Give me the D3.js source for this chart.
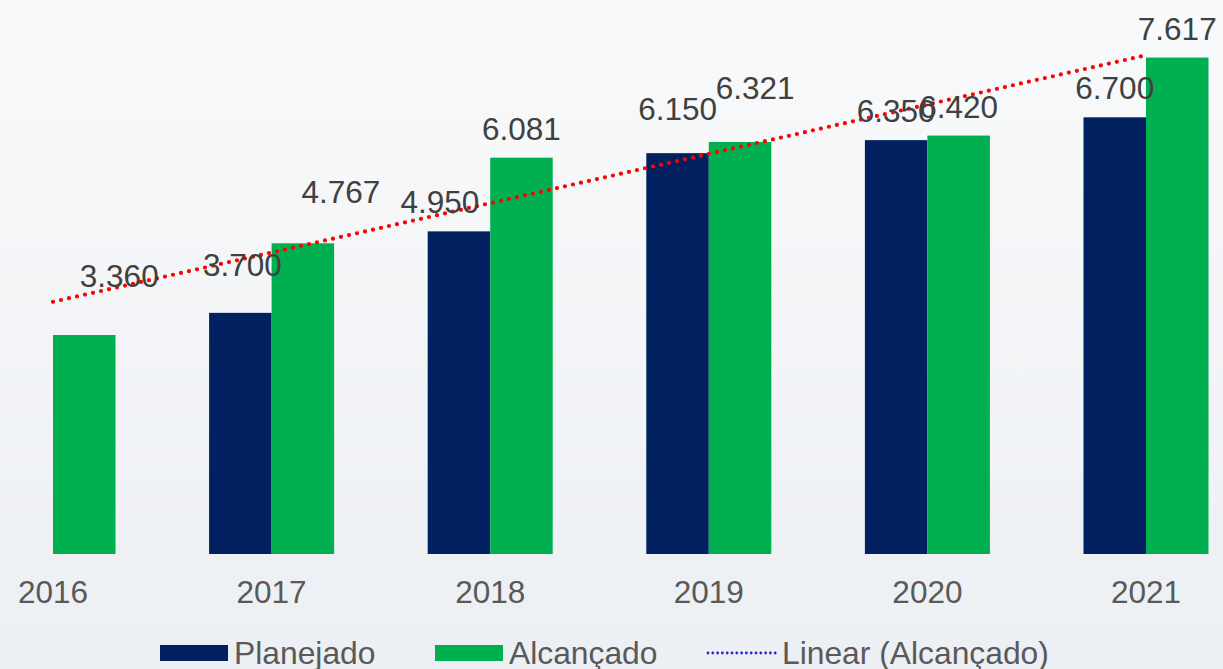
<!DOCTYPE html>
<html>
<head>
<meta charset="utf-8">
<script src="https://cdn.jsdelivr.net/npm/d3@7"></script>
<style>
  html, body { margin: 0; padding: 0; }
  body { width: 1223px; height: 669px; overflow: hidden; }
  svg { display: block; font-family: "Liberation Sans", Arial, sans-serif; }
</style>
</head>
<body>
<div id="chart"></div>
<script>
// Data
const years = ["2016", "2017", "2018", "2019", "2020", "2021"];
const planejado = [null, 3700, 4950, 6150, 6350, 6700];
const alcancado = [3360, 4767, 6081, 6321, 6420, 7617];
const seriesNames = ["Planejado", "Alcançado"];
const trendName = "Linear (Alcançado)";

// Manual label nudges (as moved in the original chart)
const labelNudge = {
  "Planejado-2017": [2, -19],
  "Planejado-2018": [-19, 0],
  "Planejado-2019": [0, -15],
  "Alcançado-2016": [35, -30],
  "Alcançado-2017": [38, -22],
  "Alcançado-2019": [15, -25]
};

const width = 1223;
const height = 669;
const colors = { "Planejado": "#002060", "Alcançado": "#00B050" };
const fmt = v => d3.format(",")(v).replace(",", ".");

const svg = d3.select("#chart")
  .append("svg")
    .attr("width", width)
    .attr("height", height);

// Background
const grad = svg.append("defs")
  .append("linearGradient")
    .attr("id", "bg")
    .attr("x1", 0).attr("y1", 0)
    .attr("x2", 0).attr("y2", 1);
grad.append("stop").attr("offset", "0%").attr("stop-color", "#f9fafb");
grad.append("stop").attr("offset", "100%").attr("stop-color", "#eceff3");
svg.append("rect")
    .attr("width", width)
    .attr("height", height)
    .attr("fill", "url(#bg)");

// Scales
const x = d3.scalePoint()
  .domain(years)
  .range([53, 1146]);
const xSub = d3.scaleBand()
  .domain(seriesNames)
  .range([-62.5, 62.5]);
const y = d3.scaleLinear()
  .domain([0, 8500])
  .range([554, 0]);

const rows = [];
years.forEach((yr, i) => {
  rows.push({ year: yr, key: "Planejado", value: planejado[i] });
  rows.push({ year: yr, key: "Alcançado", value: alcancado[i] });
});
const bars = rows.filter(d => d.value != null);

// Bars
svg.append("g")
    .attr("class", "bars")
  .selectAll("rect")
  .data(bars)
  .join("rect")
    .attr("x", d => x(d.year) + xSub(d.key))
    .attr("y", d => y(d.value))
    .attr("width", xSub.bandwidth())
    .attr("height", d => y(0) - y(d.value))
    .attr("fill", d => colors[d.key]);

// Trendline (linear regression over Alcançado)
const pts = alcancado.map((v, i) => [i + 1, v]);
const n = pts.length;
const mx = d3.mean(pts, p => p[0]);
const my = d3.mean(pts, p => p[1]);
const slope = d3.sum(pts, p => (p[0] - mx) * (p[1] - my)) / d3.sum(pts, p => (p[0] - mx) ** 2);
const icpt = my - slope * mx;
const trend = [1, n].map(t => [x(years[t - 1]), y(icpt + slope * t)]);
svg.append("path")
    .attr("d", d3.line()(trend))
    .attr("fill", "none")
    .attr("stroke", "#ff0000")
    .attr("stroke-width", 4.2)
    .attr("stroke-linecap", "round")
    .attr("stroke-dasharray", "0 8.2");

// Data labels
svg.append("g")
    .attr("class", "labels")
    .attr("fill", "#404040")
    .attr("font-size", 31.5)
    .attr("text-anchor", "middle")
  .selectAll("text")
  .data(bars)
  .join("text")
    .attr("x", d => {
      const nudge = labelNudge[`${d.key}-${d.year}`] || [0, 0];
      return x(d.year) + xSub(d.key) + xSub.bandwidth() / 2 + nudge[0];
    })
    .attr("y", d => {
      const nudge = labelNudge[`${d.key}-${d.year}`] || [0, 0];
      return y(d.value) - 18 + nudge[1];
    })
    .text(d => fmt(d.value));

// X axis labels
svg.append("g")
    .attr("fill", "#595959")
    .attr("font-size", 31.5)
    .attr("text-anchor", "middle")
  .selectAll("text")
  .data(years)
  .join("text")
    .attr("x", d => x(d))
    .attr("y", 603)
    .text(d => d);

// Legend
const legend = svg.append("g")
    .attr("class", "legend")
    .attr("font-size", 31.8)
    .attr("fill", "#595959");
const legendItems = [
  { name: seriesNames[0], x: 160 },
  { name: seriesNames[1], x: 435 }
];
legendItems.forEach(item => {
  legend.append("rect")
      .attr("x", item.x)
      .attr("y", 645)
      .attr("width", 68)
      .attr("height", 16)
      .attr("fill", colors[item.name]);
  legend.append("text")
      .attr("x", item.x + 74)
      .attr("y", 664)
      .text(item.name);
});
legend.append("line")
    .attr("x1", 708)
    .attr("x2", 776)
    .attr("y1", 653)
    .attr("y2", 653)
    .attr("stroke", "#2828d8")
    .attr("stroke-width", 2.8)
    .attr("stroke-linecap", "round")
    .attr("stroke-dasharray", "0 4.8");
legend.append("text")
    .attr("x", 782)
    .attr("y", 664)
    .text(trendName);
</script>
</body>
</html>
